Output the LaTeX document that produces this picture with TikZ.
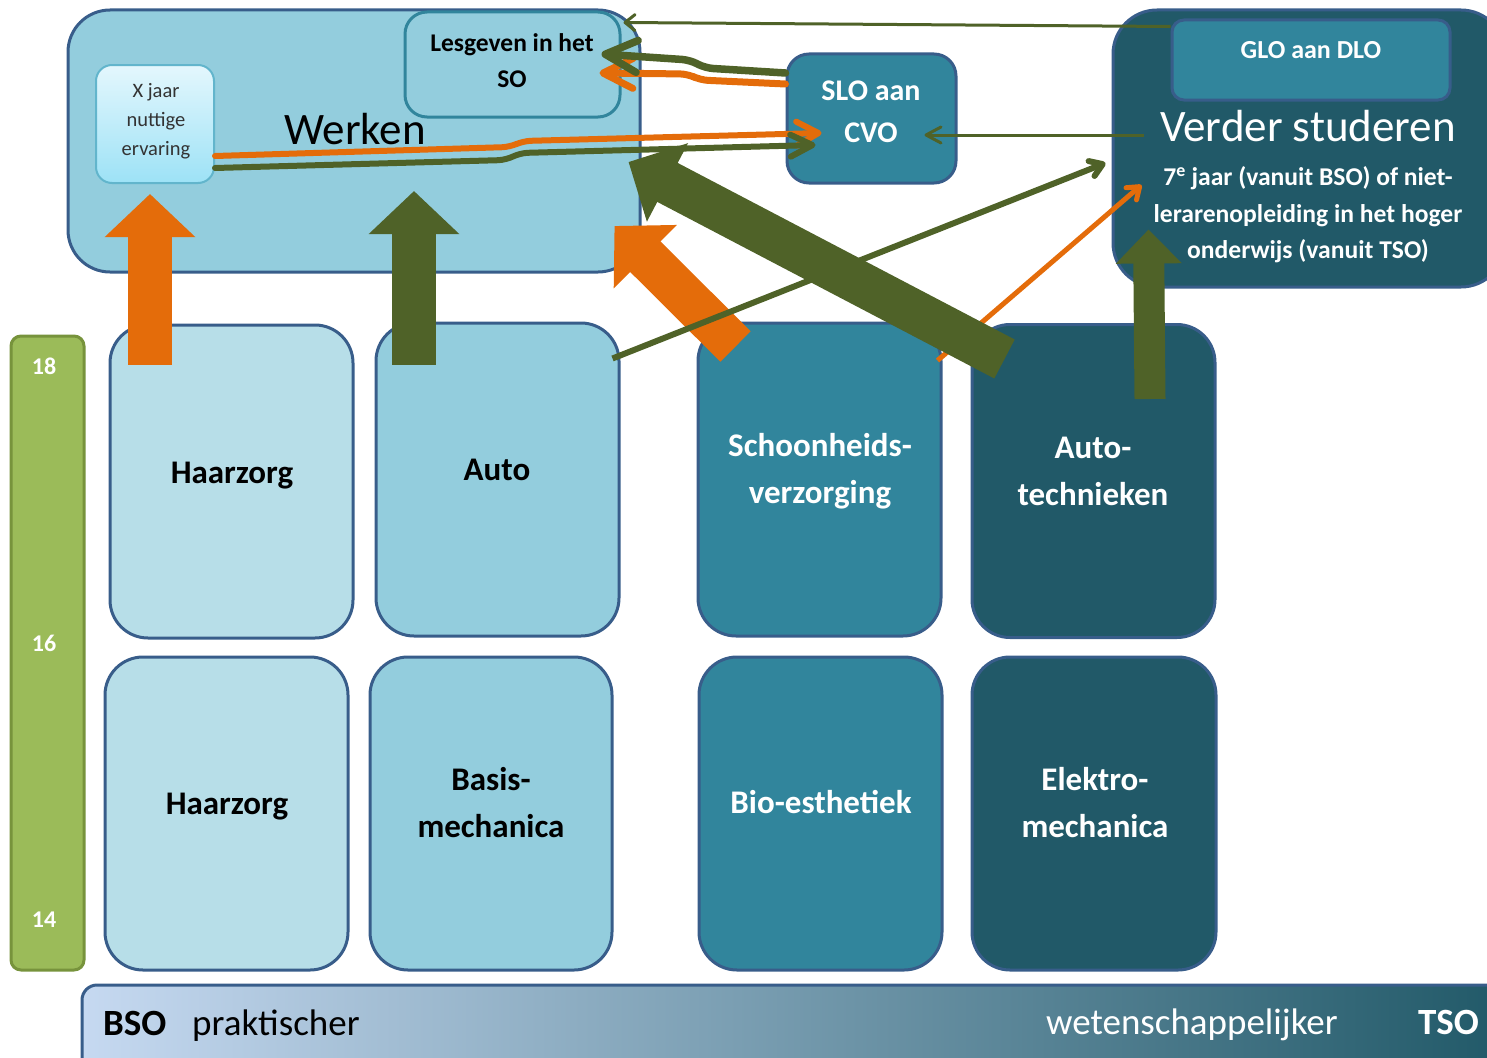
\documentclass[tikz,border=0pt]{standalone}
\usepackage{fontspec}
\setmainfont{Carlito}
\usetikzlibrary{arrows.meta,calc}

\definecolor{edgeblue}{HTML}{385D8A}
\definecolor{paleblue}{HTML}{B7DEE8}
\definecolor{midblue}{HTML}{93CDDD}
\definecolor{boxteal}{HTML}{31859C}
\definecolor{deepteal}{HTML}{215968}
\definecolor{agegreen}{HTML}{9BBB59}
\definecolor{ageedge}{HTML}{77933C}
\definecolor{arroworange}{HTML}{E46C0A}
\definecolor{arrowolive}{HTML}{4F6228}
\definecolor{barlight}{HTML}{C6D9F1}
\definecolor{xtop}{HTML}{E4F7FD}
\definecolor{xbottom}{HTML}{9DE2F6}
\definecolor{xedge}{HTML}{62B5CC}

\tikzset{
  panel/.style={draw=edgeblue, line width=3pt, inner sep=0pt},
  rowbox/.style={panel, rounded corners=38pt, minimum width=243pt, minimum height=313pt},
  boxlabel/.style={font=\fontsize{33}{47}\selectfont\bfseries, align=center, inner sep=0pt},
  whitelabel/.style={boxlabel, text=white},
  agelabel/.style={font=\fontsize{24}{28}\selectfont\bfseries, text=white, anchor=base, inner sep=0pt},
  barlabel/.style={font=\fontsize{37}{44}\selectfont, anchor=base west, inner sep=0pt},
  blockarrow/.style n args={3}{line width=#1pt, -{Triangle[width=#2pt,length=#3pt]}},
  chevron/.style n args={2}{-{Straight Barb[length=#1pt,width=#2pt,round]}},
  bendline/.style={rounded corners=8pt, line cap=round, line join=round}
}

\begin{document}
\begin{tikzpicture}[x=1pt,y=-1pt]
\useasboundingbox (0,0) rectangle (1487,1057);
\clip (0,0) rectangle (1487,1057);

% --- upper destinations ---
\node[panel, fill=midblue, rounded corners=42pt, minimum width=572pt, minimum height=262pt] (werken) at (354,141) {};
\node[font=\fontsize{45}{54}\selectfont, anchor=base, inner sep=0pt] (werkentxt) at (355,144) {Werken};

\node[draw=boxteal, line width=3pt, fill=midblue, rounded corners=22pt, minimum width=215pt, minimum height=105pt, inner sep=0pt] (lesg) at (512.5,64.5) {};
\node[font=\fontsize{25.5}{36}\selectfont\bfseries, align=center, inner sep=0pt] (lesgtxt) at (512,60.5) {Lesgeven in het\\SO};

\node[draw=xedge, line width=2pt, top color=xtop, bottom color=xbottom, rounded corners=16pt, minimum width=118pt, minimum height=118pt, inner sep=0pt] (xjaar) at (155,124) {};
\node[font=\fontsize{20.5}{29}\selectfont, text=black!80, align=center, inner sep=0pt] (xjaartxt) at (156,121) {X jaar\\nuttige\\ervaring};

\node[panel, fill=boxteal, rounded corners=22pt, minimum width=169pt, minimum height=129pt] (slo) at (871.5,118.5) {};
\node[font=\fontsize{30}{42}\selectfont\bfseries, text=white, align=center, inner sep=0pt] (slotxt) at (871,111.5) {SLO aan\\CVO};

\node[panel, fill=deepteal, rounded corners=44pt, minimum width=392pt, minimum height=277pt] (verder) at (1309,148.5) {};
\node[panel, fill=boxteal, rounded corners=12pt, minimum width=278pt, minimum height=80pt] (glo) at (1311,60) {};
\node[font=\fontsize{26}{30}\selectfont\bfseries, text=white, anchor=base, inner sep=0pt] (glotxt) at (1311,59) {GLO aan DLO};
\node[font=\fontsize{45}{54}\selectfont, text=white, anchor=base, inner sep=0pt] (verdertxt) at (1308,141) {Verder studeren};
\node[font=\fontsize{25.6}{36.5}\selectfont\bfseries, text=white, align=center, inner sep=0pt] (verdersub) at (1308,215) {7\textsuperscript{e} jaar (vanuit BSO) of niet-\\lerarenopleiding in het hoger\\onderwijs (vanuit TSO)};

% --- age scale ---
\node[draw=ageedge, line width=3pt, fill=agegreen, rounded corners=10pt, minimum width=73pt, minimum height=634pt, inner sep=0pt] (age) at (47.5,653) {};
\node[agelabel] (age18) at (44,374) {18};
\node[agelabel] (age16) at (44,651) {16};
\node[agelabel] (age14) at (44,927) {14};

% --- study directions ---
\node[rowbox, fill=paleblue] (haar1) at (231.5,481.5) {};
\node[rowbox, fill=midblue] (auto1) at (497.5,479.5) {};
\node[rowbox, fill=boxteal] (schoon) at (819.5,479.5) {};
\node[rowbox, fill=deepteal] (autotech) at (1093.5,481) {};
\node[rowbox, fill=paleblue] (haar2) at (226.5,813.5) {};
\node[rowbox, fill=midblue, minimum width=242pt] (basis) at (491,813.5) {};
\node[rowbox, fill=boxteal] (bio) at (820.5,813.5) {};
\node[rowbox, fill=deepteal, minimum width=244pt] (elektro) at (1094,813.5) {};

\node[boxlabel, anchor=base] (haar1txt) at (232,483) {Haarzorg};
\node[boxlabel, anchor=base] (auto1txt) at (497,480) {Auto};
\node[whitelabel] (schoontxt) at (820,471) {Schoonheids-\\verzorging};
\node[whitelabel] (autotechtxt) at (1093,471) {Auto-\\technieken};
\node[boxlabel, anchor=base] (haar2txt) at (227,814) {Haarzorg};
\node[boxlabel] (basistxt) at (491,803) {Basis-\\mechanica};
\node[whitelabel, anchor=base] (biotxt) at (821,813) {Bio-esthetiek};
\node[whitelabel] (elektrotxt) at (1095,803) {Elektro-\\mechanica};

% --- BSO / TSO scale ---
\node[draw=edgeblue, line width=3pt, left color=barlight, right color=deepteal, rounded corners=15pt, minimum width=1423pt, minimum height=90pt, inner sep=0pt] (bar) at (793.5,1030) {};
\node[barlabel, font=\fontsize{37}{44}\selectfont\bfseries] (bso) at (103,1035) {BSO};
\node[barlabel] (prakt) at (192,1035) {praktischer};
\node[barlabel, text=white] (wet) at (1046,1034) {wetenschappelijker};
\node[barlabel, font=\fontsize{37}{44}\selectfont\bfseries, text=white] (tso) at (1418,1034) {TSO};

% --- block arrows ---
\draw[arroworange, blockarrow={44}{88}{43}] ($(haar1.north)+(-81.5,41)$) -- ($(xjaar.south)+(-5,10)$);
\draw[arrowolive, blockarrow={44}{88}{43}] ($(auto1.north)+(-83.5,43)$) -- ($(werken.center)+(60,50)$);
\draw[arroworange, blockarrow={43}{87}{43.5}] ($(schoon.north west)+(39,25)$) -- ($(werken.east)+(-27,85)$);

% --- thin connectors ---
\draw[arrowolive, line width=6pt, chevron={12}{16}] ($(auto1.north east)+(-8,37)$) -- ($(verder.west)+(-6,14.5)$);
\draw[arroworange, line width=5pt, chevron={11}{16}] ($(schoon.north east)+(-5,39)$) -- ($(verder.west)+(30,36.5)$);

\draw[arrowolive, blockarrow={44}{86}{44}] ($(autotech.north west)+(34,36)$) -- ($(werken.east)+(-13,21)$);
\draw[arrowolive, blockarrow={31}{64}{34}] ($(autotech.north)+(56.5,76)$) -- ($(verder.south west)+(37,-59)$);

\draw[arrowolive, line width=3pt, chevron={10}{16}] ($(glo.north west)+(0,8)$) -- ($(lesg.north east)+(2,12)$);
\draw[arrowolive, line width=3pt, chevron={15}{16}] ($(verder.west)+(32,-13.5)$) -- ($(slo.east)+(-33,16.5)$);

\draw[arroworange, line width=7pt, bendline, chevron={30}{30}] ($(slo.west)+(0,-34.5)$) -- (700,80) -- (688,74) -- ($(lesg.east)+(-22,8.5)$);
\draw[arrowolive, line width=7.5pt, bendline, chevron={32}{32}] ($(slo.west)+(0,-45.5)$) -- (705,68) -- (690,60) -- ($(lesg.east)+(-20,-10.5)$);

\draw[arroworange, line width=6pt, bendline, chevron={22}{24}] ($(xjaar.east)+(0,32)$) -- (510,147) -- (523,141) -- ($(slo.west)+(36,14.5)$);
\draw[arrowolive, line width=6pt, bendline, chevron={22}{22}] ($(xjaar.east)+(0,44)$) -- (506,160) -- (520,153) -- ($(slo.west)+(30,26.5)$);

\end{tikzpicture}
\end{document}
